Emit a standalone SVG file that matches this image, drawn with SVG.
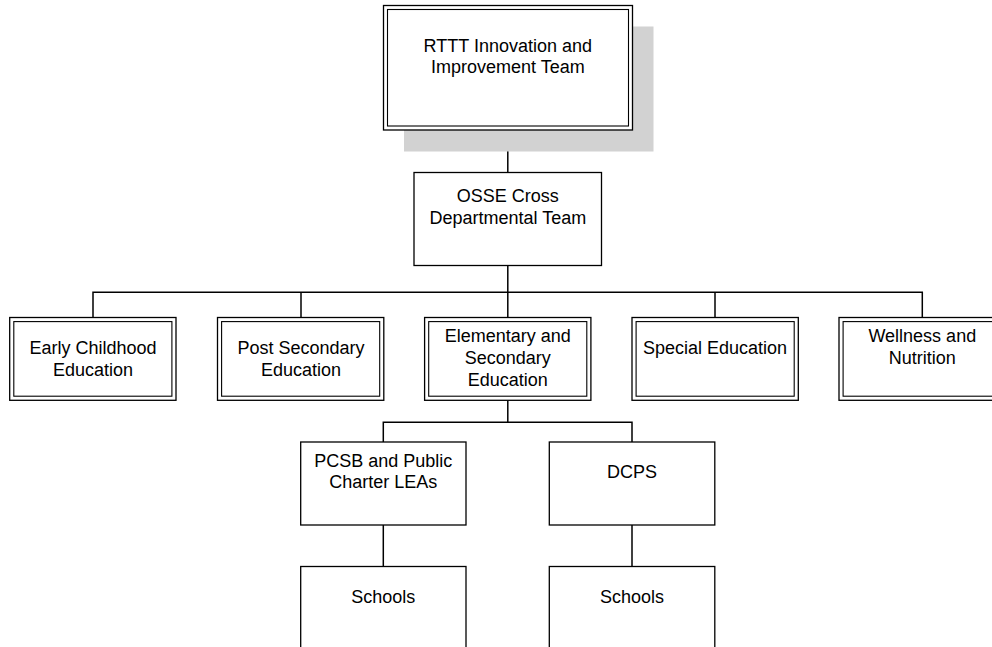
<svg xmlns="http://www.w3.org/2000/svg" width="992" height="647" viewBox="0 0 992 647">
  <style>
    .box { fill: #ffffff; stroke: #000000; stroke-width: 1.3; }
    .inner { fill: none; stroke: #000000; stroke-width: 1.1; }
    .shadow { fill: #d2d2d2; stroke: none; }
    .wire { fill: none; stroke: #000000; stroke-width: 1.5; }
    text { font-family: "Liberation Sans", Arial, sans-serif; font-size: 18px; fill: #000000; text-anchor: middle; }
  </style>
  <rect x="0" y="0" width="992" height="647" fill="#ffffff"/>

  <!-- connectors -->
  <g id="connectors">
    <path class="wire" d="M507.8,130 V172.5"/>
    <path class="wire" d="M507.8,265.5 V292.3"/>
    <path class="wire" d="M93,317.5 V292.3 H922.3 V317.5"/>
    <path class="wire" d="M301,292.3 V317.5"/>
    <path class="wire" d="M507.8,292.3 V317.5"/>
    <path class="wire" d="M715,292.3 V317.5"/>
    <path class="wire" d="M507.8,400.5 V422.3"/>
    <path class="wire" d="M383.3,442 V422.3 H632 V442"/>
    <path class="wire" d="M383.3,525 V566.5"/>
    <path class="wire" d="M632,525 V566.5"/>
  </g>

  <!-- top team with drop shadow -->
  <g id="rttt">
    <rect class="shadow" x="404" y="26.5" width="249.5" height="125"/>
    <rect class="box" x="383.5" y="5.5" width="249" height="124.5"/>
    <rect class="inner" x="387.5" y="9.5" width="241" height="116.5"/>
    <text x="507.8" y="51.7">RTTT Innovation and</text>
    <text x="507.8" y="73.3">Improvement Team</text>
  </g>

  <g id="osse">
    <rect class="box" x="414" y="172.5" width="187.5" height="93"/>
    <text x="507.8" y="201.7">OSSE Cross</text>
    <text x="507.8" y="223.8">Departmental Team</text>
  </g>

  <g id="early-childhood">
    <rect class="box" x="9.7" y="317.5" width="166.3" height="82.8"/>
    <rect class="inner" x="13.8" y="321.6" width="158.1" height="74.6"/>
    <text x="93" y="354.3">Early Childhood</text>
    <text x="93" y="375.8">Education</text>
  </g>

  <g id="post-secondary">
    <rect class="box" x="217.5" y="317.5" width="166.3" height="82.8"/>
    <rect class="inner" x="221.6" y="321.6" width="158.1" height="74.6"/>
    <text x="301" y="354.3">Post Secondary</text>
    <text x="301" y="375.8">Education</text>
  </g>

  <g id="elementary-secondary">
    <rect class="box" x="424.6" y="317.5" width="166.3" height="82.8"/>
    <rect class="inner" x="428.7" y="321.6" width="158.1" height="74.6"/>
    <text x="507.8" y="341.7">Elementary and</text>
    <text x="507.8" y="363.8">Secondary</text>
    <text x="507.8" y="385.9">Education</text>
  </g>

  <g id="special-education">
    <rect class="box" x="632" y="317.5" width="166.3" height="82.8"/>
    <rect class="inner" x="636.1" y="321.6" width="158.1" height="74.6"/>
    <text x="715" y="354.3">Special Education</text>
  </g>

  <g id="wellness-nutrition">
    <rect class="box" x="839" y="317.5" width="166.3" height="82.8"/>
    <rect class="inner" x="843.1" y="321.6" width="158.1" height="74.6"/>
    <text x="922.3" y="341.7">Wellness and</text>
    <text x="922.3" y="363.8">Nutrition</text>
  </g>

  <g id="pcsb">
    <rect class="box" x="300.7" y="442" width="165.3" height="83"/>
    <text x="383.3" y="466.7">PCSB and Public</text>
    <text x="383.3" y="488.3">Charter LEAs</text>
  </g>

  <g id="dcps">
    <rect class="box" x="549.3" y="442" width="165.5" height="83"/>
    <text x="632" y="477.7">DCPS</text>
  </g>

  <g id="pcsb-schools">
    <rect class="box" x="300.7" y="566.5" width="165.3" height="90"/>
    <text x="383.3" y="602.7">Schools</text>
  </g>

  <g id="dcps-schools">
    <rect class="box" x="549.3" y="566.5" width="165.5" height="90"/>
    <text x="632" y="602.7">Schools</text>
  </g>
</svg>
